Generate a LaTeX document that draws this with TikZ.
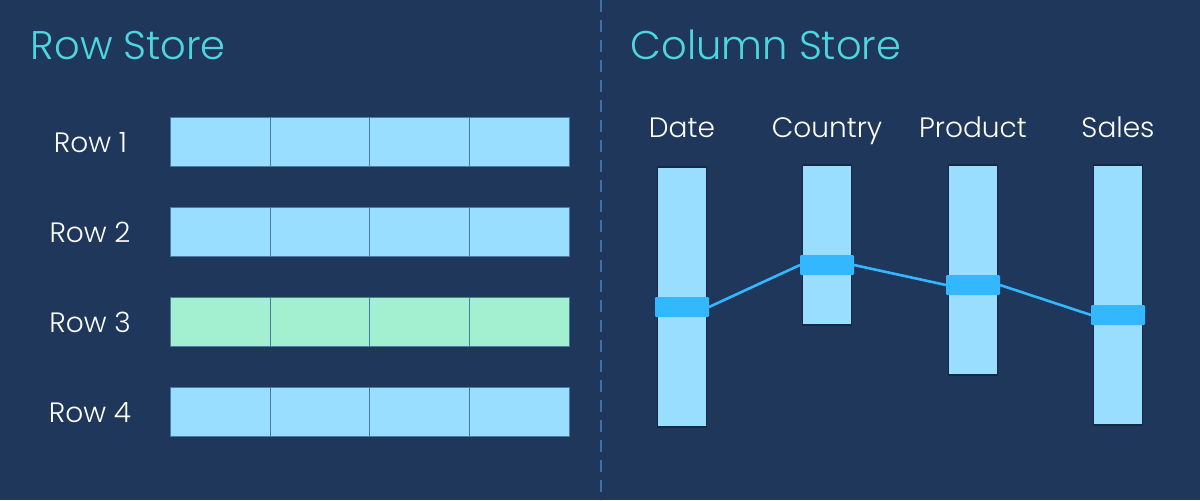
\documentclass[tikz,border=0pt]{standalone}
\usepackage{fontspec}
\setmainfont{Poppins Light}
\definecolor{bg}{HTML}{1E375A}
\definecolor{cell}{HTML}{99DDFF}
\definecolor{green}{HTML}{A3F0D0}
\definecolor{hl}{HTML}{33B8FF}
\definecolor{title}{HTML}{4DD6DF}
\definecolor{divline}{HTML}{3A70B0}
\definecolor{sep}{HTML}{4A7A9E}
\begin{document}
\begin{tikzpicture}[x=0.5pt,y=-0.5pt,
  titletext/.style={anchor=base west,inner sep=0,text=title,font=\fontsize{20}{22}\selectfont},
  rowlabel/.style={anchor=base,inner sep=0,text=white,font=\fontsize{14}{16}\selectfont},
  collabel/.style={anchor=base,inner sep=0,text=white,font=\fontsize{14}{16}\selectfont},
  rowcell/.style={draw=sep,line width=0.5pt,fill=#1,minimum width=50pt,minimum height=24.5pt,inner sep=0,outer sep=0,anchor=north west},
  colbar/.style={draw=bg!75!black,line width=0.6pt,fill=cell,minimum width=24.5pt,inner sep=0,outer sep=0,anchor=north west},
  hlbar/.style={fill=hl,rounded corners=0.6pt,minimum width=27pt,minimum height=10pt,inner sep=0,outer sep=0},
  link/.style={draw=hl,line width=1.3pt}]
\fill[bg] (0,0) rectangle (1200,500);
\useasboundingbox (0,0) rectangle (1200,500);
\coordinate (divtop) at (601,0);
\coordinate (divbot) at (601,500);
\draw[divline,line width=0.9pt,dash pattern=on 6pt off 4pt] (divtop) -- (divbot);
\node[titletext] (t1) at (30.5,59) {Row Store};
\node[titletext] (t2) at (630.5,59) {Column Store};
\foreach \y/\n/\c/\lx in {117/1/cell/90.5,207/2/cell/90,297/3/green/90,387/4/cell/90}{
  \node[rowlabel] (r\n) at (\lx,\y+35) {Row \n};
  \foreach \k in {0,1,2,3}
    \node[rowcell=\c] (c\n\k) at (170.3+\k*99.8,\y) {};
}
\node[collabel] (h1) at (682,137) {Date};
\node[collabel] (h2) at (827,137) {Country};
\node[collabel] (h3) at (973,137) {Product};
\node[collabel] (h4) at (1118,137) {Sales};
\node[colbar,minimum height=130pt] (b1) at (657.5,167) {};
\node[colbar,minimum height=80pt] (b2) at (802.5,165) {};
\node[colbar,minimum height=105pt] (b3) at (948.5,165) {};
\node[colbar,minimum height=130pt] (b4) at (1093.5,165) {};
\node[hlbar] (s1) at (682,307) {};
\node[hlbar] (s2) at (827,265) {};
\node[hlbar] (s3) at (973,285) {};
\node[hlbar] (s4) at (1118,315) {};
\draw[link] (s1.east) -- (s2.west);
\draw[link] (s2.east) -- (s3.west);
\draw[link] (s3.east) -- (s4.west);
\end{tikzpicture}
\end{document}
